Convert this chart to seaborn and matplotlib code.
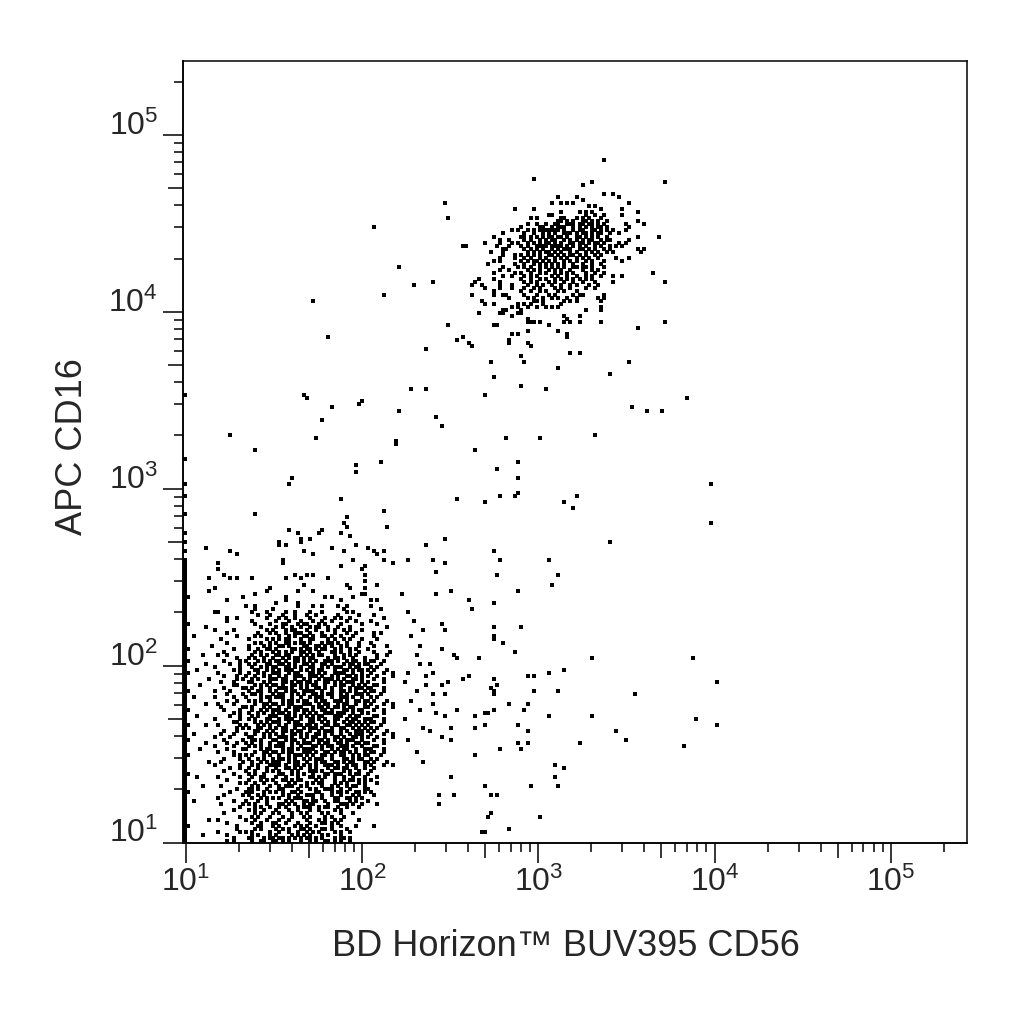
import numpy as np
import pandas as pd
import matplotlib
matplotlib.use("Agg")
import seaborn as sns
from matplotlib import pyplot as plt
from matplotlib.ticker import FixedLocator, FuncFormatter, NullLocator, NullFormatter

# 256-channel log display (decades covered by each axis)
X_DECADES = (0.983, 5.433)
Y_DECADES = (1.0, 5.418)
N_CHANNELS = 256

x_label = "BD Horizon\u2122 BUV395 CD56"
y_label = "APC CD16"
major_ticks = [1e1, 1e2, 1e3, 1e4, 1e5]
mid_ticks = [5e1, 5e2, 5e3, 5e4]
minor_ticks = [m * 10.0 ** k for k in range(0, 6) for m in (2, 3, 4, 6, 7, 8, 9)]

# CD16-/CD56 dim events, "ychannel|blocks of 10 x channels", '#' = event, starts at x channel 0
low_blob = [
    "112|.......... .......... .......... .......... .......... .#........ .......... ..........",
    "108|.......... .......... .......... .......... .......... .......... .....#.... ..........",
    "107|#......... .......... ...#...... .......... .......... .......... .......... ..........",
    "106|.......... .......... .......... .......... .......... ...#...... .......... ..........",
    "104|.......... .......... .......... .......... .......... ..#....... .......... ..........",
    "103|.......... .......... .......... .......... .......... ...#...... ......#... ..........",
    "102|.......... .......... .......... ....#..... .....#.... .......... .......... ..........",
    "101|#......... .......... .......... .......#.. ....#..... .#........ .......... ..........",
    "100|.......... .......... .......... .......... .......... ....#..... .......... ..........",
    "99|.......... .......... .......... ........#. .#........ .......... .......... ..........",
    "98|#......... .......... .......... .#......#. .......... .......... .......... ..........",
    "97|.......... .......... .......... .#.#...... .......... ......#... .......... ..........",
    "96|.......#.. .......... .......... .......... ........#. .......... #......... ..........",
    "95|#......... .....#.... .......... .........# .......... ..#....... ..#..#.... ..........",
    "94|.......... .......#.. .......... .......... ..#....... .......... ...#...... ..........",
    "92|#......... .......... .......... ..#....... .......... .....#.... .....#.... ...#......",
    "91|#......... .#........ .......... ..#....... .......... .......... ........#. ..........",
    "90|#......... .......... .......... .......... .......... .#.......# .......... ..........",
    "89|#......... .#........ .......... .......... .......... ........#. .......... ..........",
    "88|#......... .......... .......... .......... .......... .......... .......... ..........",
    "87|#......... ...#...... .......... ......#... #.#....... .........# .......... ..........",
    "86|#.......#. .....#.#.. ..#....... ...#....#. .......#.. .......... .......... ..........",
    "85|#......... .......... .......... .......... .......... .........# .......... ..........",
    "84|#......... .......... .......... .........# .......... ...#...... ...#...... ..........",
    "83|#......... #......... ........#. .......... .......... ....#....# .......... ..........",
    "82|#.......#. .......... .......#.. .......#.. ..#....... .......... .......... ..........",
    "81|#......... .......... ...#...... .......... .......... ........## .......... .#........",
    "80|##........ .........# .......... ...#...... ......#.#. .....#.... .......... ..........",
    "79|#......... ....#..... .......... ...#...... .......... .#........ .#.#...... ..........",
    "78|#......... .......... .......... #......#.. .......... .......... .......... ..........",
    "77|#......... .......... #..#...... .......#.. ..#..#.... #..#...... .#........ ..........",
    "76|#......... .......... ...#.....# .......... .......... ..#....... ....#..... ..........",
    "75|#......... ##........ ..#....#.. ...#..#... .#...#.... ...#.#.... .......... ...#......",
    "74|#......... .......... ....#...#. ..#...#... #..#...... #......#.. ..#....... ..........",
    "73|#......... ....#..#.. .......#.. .#.#..#... .#....#..# .#..#..... .....#.... ..........",
    "72|#......... ....#..... ..#....... #...#...#. ..#..#..#. ...#..#... .#........ .....#....",
    "71|##........ .......... ...#....#. ..##...#.# #...#.#... .#......#. ...#...... ..........",
    "70|#......#.. .......... .....#.... #.#..#..#. .#.##..#.. #...#..... ......#... ..........",
    "69|#......... #.....#... .......#.# ...#.##... #..#...#.# ..#.#...#. .......... ........#.",
    "68|#......... ....#..... ....#...#. #..#..###. .#...#...# ...#..#... ..#.#..... ..........",
    "67|#..#...... .......#.. ...#.#.... .#..#.#..# #.#..##.#. .#...#.... ..#....... ....#.....",
    "66|#......... ..#....... .#.....#.# .#.##...#. .##....#.# ..#.#...#. ...#...... ..........",
    "65|#......... ....#..... ...#.#..#. #..##.#.## .#...#.##. #..#...#.. .#........ ..........",
    "64|#........# .......... .#....#.#. .##.#....# #..##.#.#. .#.#...#.. ..#...#... .......#..",
    "63|##........ ......#... .#..#..##. #....##.#. ##.#.##..# .#..#.#... #......... ..........",
    "62|#......... ...#...... ...#.#...# .#.#.#..## .#..#...## .#..#..#.. ..#....#.. ..........",
    "61|#.....#... .#..#..... ..#..#.#.. ##.##...#. #.#.##...# ..#.#.#... ...#..#... ......#...",
    "60|#......... .......#.. .#.#..#..# ..#.#.##.# .##....#.# #.#..#...# ...#...... ..........",
    "59|##........ ...#....#. #...#.#.#. ##.#..##.# .#.#..###. #..#.##..# .##..#.... ..........",
    "58|#......#.. .....#..#. .#.#...##. .##.#.#..# #.#..##.#. ..#.##.#.# #...#..... .......#..",
    "57|#......... #.......#. ..#..#.#.# #..##.#.#. .##..#.#.# ##..#.##.. .#.#...... ..........",
    "56|#...#..... ......#.#. ...##..#.# .#.###..#. #.#.##...# ..##.#.##. #.#...#... ..........",
    "55|##........ .#......#. .#..#.#..# ##..#.##.. .##.#.#..# ###..#..#. .#...#..#. ...#......",
    "54|#......... ...#...#.. #..#..#.#. .#.#..###. .###.#..#. #..##.#.#. #..#....#. ..........",
    "53|#.......#. .......#.# ..#.#...## #.##..#..# .#..#.###. #.#..##.#. ..#..#.... ..........",
    "52|#......... ..#...#... .##...#.#. ..##.#.##. ##.#..##.# .#.###..#. #....#.... ..#.......",
    "51|#....#.... ......##.. ...#.#.#.# #.#..##.#. #.##..#..# .##..#.#.# ..##...... ..........",
    "50|#......... ...#.....# #.#..#..#. .###.#..#. #..##.#.#. .#..#.###. ##...#.... ..........",
    "49|##........ #....#.... .#..##..#. #..#.##..# ###..#..#. .##.#.#..# .##..#.... ......#...",
    "48|#......... ....#....# ..##.#...# .##..#.#.# ..##.#.##. .#.#..###. #...#..... ..........",
    "47|#..#...... #.....#... #....#.##. ###..#..#. .#.###..#. .###.#..#. .#.#...... ..........",
    "46|#......... ....#..#.. .#.#.#..#. ..#.##.#.# #..#.##..# ##.#..##.# #.#...#... ....#.....",
    "45|#......#.. .#....#... ...#..##.# #.#.##...# ##..#.##.. #.##..#..# .#...#..#. ..........",
    "44|#......... ..#......# #.#...#.#. .#..#.###. ..#.##.#.# #.#.##...# #..#....#. ..........",
    "43|##........ ...#....#. ..#..#.#.# ##.#..##.# #.#..##.#. ..##.#.##. ..#..#.... .......#..",
    "42|#......... ......#.#. .#..#.#..# .##.#.#..# .#.#..###. ###..#..#. #....#.... ..........",
    "41|#...#..... .....#..#. ..#.#...## #..##.#.#. #.#.##...# ##..#.##.. ..##...... ..........",
    "40|#......... #.......#. .#.#...##. .#.###..#. .##.#.#..# #..#.##..# ##...#.... ..#.......",
    "39|#......... ......##.. ...#.#.#.# ##..#.##.. .##..#.#.# ..#.##.#.# .##..#.... ..........",
    "38|##.....#.. .#......#. #...#.#.#. .#.#..###. ##.#..##.# #..##.#.#. #...#..... ..........",
    "37|#......... .......#.# .#..##..#. #.##..#..# .###.#..#. .##..#.#.# .#.#...... ........#.",
    "36|#......... ...#...#.. ...##..#.# ..##.#.##. .#..#.###. .#.#..###. #.#...#... ..........",
    "35|#..#...... ..#...#... #..#..#.#. #.#..##.#. #..##.#.#. .#..#.###. .#...#..#. ..........",
    "34|#......... #....#.... .##...#.#. .###.#..#. #.##..#..# #.#..##.#. #..#....#. ..........",
    "33|##........ ...#.....# ..##.#...# #..#.##..# ..#.##.#.# .#.###..#. ..#..#.... ...#......",
    "32|#......#.. ....#..#.. #.#..#..#. .##..#.#.# ##..#.##.. ##.#..##.# #....#.... ..........",
    "31|#......... #.....#... .#.#.#..#. ###..#..#. ..##.#.##. .###.#..#. ..##...... ..........",
    "30|#....#.... ....#....# #....#.##. ..#.##.#.# ###..#..#. #.##..#..# ##...#.... ..........",
    "29|#......... .#....#... ...#..##.# #.#.##...# ##.#..##.# .##.#.#..# .##..#.... ......#...",
    "28|##........ ......#.#. #.#...#.#. .#..#.###. #.#..##.#. .##..#.#.# #...#..... ..........",
    "27|#......... ...#....#. .#..#.#..# .##.#.#..# .#.###..#. ..##.#.##. .#.#...... ..........",
    "26|#.......#. ..#......# ..#..#.#.# ##..#.##.. #..#.##..# #.#.##...# #.#...#... ..........",
    "25|#......... #.......#. ..#.#...## ##.#..##.# .#.#..###. #..#.##..# .#...#..#. ..........",
    "24|#......... .....#..#. .#..#..#.. #..##.#.#. .#.#...#.# #.##..#..# ..#....... ..........",
    "23|#......... ...#...... #..#...#.# .#...#.#.. .###.#..#. ..#.#..#.. .#........ ..........",
    "22|##........ ......#... .#.#..#... .##..#.#.# ..#...##.# ##..#.##.. #......... ..........",
    "21|#...#..... .#......#. ..#..##... #..#...#.. .##.#.#..# ..#..#...# ...#...... ..........",
    "20|#......... ....#..... .#...#.#.# ..##.#.##. ...#.#...# ..#.##.#.# .#........ ..........",
    "19|#......... ........#. #..#..#... #...#.#... #.#.##...# .#.#...#.# ...#...... ..........",
    "18|#.....#... ..#....... ..#.#...#. .#.###..#. #....#..#. #..#.##..# .......... ..........",
    "17|#......... .......#.. .##.#..#.. .##....#.. .#.#..###. .#..#....# #......... ..........",
    "16|##........ .....#.... ###...#.#. #.#..##.#. ...##...#. ##.#..##.# .#........ ..........",
    "15|#......... ...#.....# .#..#.#... ..#.#..#.. ###..#..#. .#...#.#.. ..#....... ..........",
    "14|#......... .#........ ..#..#.#.# .#..#.###. ..#..#...# #..##.#.#. .......... ..........",
    "13|#..#...... ......#... #...#..#.. ...#.#...# #.##..#..# #...#.#... #......... ..........",
    "12|#......... ..#......# .#.#...#.. .##.#.#..# .##....#.. .###.#..#. ...#...... ..........",
    "11|#......... ........#. ...#.#..#. .#.#...#.# ##..#.##.. #..#...#.. .......... ..........",
    "10|#......... ......#... .#.#..#... #...#..#.. .#..#....# .#........ .......... ..........",
    "9|#......... ...#...... ...#.#...# .#...#..#. #....#.#.. .#...#.... .......... ..........",
    "8|#......... ........#. ..#.#...#. ..#..#...# .#....#.#. ..#....... .......... ..........",
    "7|#.......#. .#........ #..#...#.. .#..#..... #...#.#..# .#.....#.. .......... ..........",
    "6|#......... ....#..... ..#..#...# #..#...#.. .#...##.#. #......... .......... ..........",
    "5|##........ .......#.. ....##...# .#....#.#. #..#....#. .#....#... ..#....... ..........",
    "4|#......... .......#.. ...#.#.... #.#.#...## .#...##.#. ...#...... .......... ..........",
    "3|#......... .#......#. #.#.....#. .#..#..#.. #.#.#....# .#..#..... .......... ..........",
    "2|#.....#... ....#..... ..#.#...#. #....#.#.# .#...#.#.. .#........ .......... ..........",
    "1|#......... ......#... .##...#.## .##.#.#.#. ##.#.#...# .##.#..... .......... ..........",
    "0|#......... ....#.#... ..#..##..# #.#.#...#. .#.#..##.# .#..#..... .......... ..........",
]

# CD16+ CD56 dim NK events, same layout, starts at x channel 90
nk_blob = [
    "217|.......... .......... ....#..... .......... .......... .......... ..........",
    "216|.......... .......... .......... .......... ...#...... .......... ..........",
    "215|.......... .......... .......... .......... #......... .......... ..........",
    "212|.......... .......... .......... .......... .......#.. #......... ..........",
    "211|.......... .......... .......... ..#.....#. .......... ..#....... ..........",
    "210|.......... .......... .......... .......... #......... .......... ..........",
    "209|.......... .......... .......... #..#.#.#.. .......... .....#.... ..........",
    "208|.......... .......... .......... .......... ..#.#..... .......... ..........",
    "207|.......... ........#. ....#..... .......... ......#... ...#...... ..........",
    "206|.......... .......... .......... ...#.....# .#.#...... ........#. ..........",
    "205|.......... .......... .........# #......... .#..#..#.. ...#...... ..........",
    "204|.......... .......... ...#.#.... ...##...#. #.#...#... .......... ..........",
    "203|.......... .......... .......... ..##.#.#.. ##.#.#..#. ........#. ..........",
    "202|.......... .......... ..#..#..#. .##..###.# #.##.#.#.. ....#..... #.........",
    "201|.......... .......... #.....##.. #.###..#.# .#.#.##.#. .....#.... ..........",
    "200|.......... .......#.# ..#.#.#### ###.#..#.# #..##.#.#. #...#..... ..........",
    "199|.......... ....#..... .#..#..#.# .#..###.#. ##.#.##..# ..#....... ..........",
    "198|.......... .#........ ##.#.#.#.# #.##.#..## .#.#.#..#. ........#. .....#....",
    "197|.......... ...#..#... .#.#..#.#. ##..#.#.#. #.##..#.## .....#.... ..........",
    "196|........#. ...#...#.# ..#.#.#.## .#.#..##.# #.#.##.#.. ..#.#..... ..........",
    "195|.##....... ..#...#... #.#..####. ####.#.#.# .#..#.#..# .#.#...... ..........",
    "194|.......... ....##.... .#.#.#.#.. #.#.###..# #.#.#..#.# ........#. #.........",
    "193|.......... #...#..... ..#.#.#.## .#.#..#.#. .#.#.#..#. #........# ..........",
    "192|.......... ....#...#. #.#.#.#..# #.#.#.##.# .#..#.#... .......... ..........",
    "191|.......... ...#....#. .#.#..#.#. .#.#.#..#. #.#..#.... .#...#.... ..........",
    "190|.......... .#.#...... #.#.##.#.# .#..#.#.#. .#.#...#.. ...#...... ..........",
    "189|.........# ........#. .#..#.#.#. #.#.#..#.. #..#..#... .......... ..........",
    "188|.......... ....#....# .#.#..#.#. #.#.#..##. ##.#...#.. .......... ..........",
    "187|.......... ...#..#... ..#.#.#..# .#.#..#... #..#.#.... .......... ..........",
    "186|.......... .#......#. #..#..#.#. .#.#.#.#.. .#..#..#.. .......... ..........",
    "185|.......... ....#..#.. .#.#.#.... #.#..#..#. .#.#..#... #..#...... ..........",
    "184|......#... .#........ #..#..#.#. .#.#.#.#.# .#.#...... .......... ..........",
    "183|.....#.... ...#...... .#.#.#...# .#..#..#.. #...#..... #......... .......#..",
    "182|....#..#.. ...#...#.. ..#..#.#.. #..#..#.#. ..#..#.... .......... ..........",
    "181|........#. ...#...#.. .#..#.#... .#.#..#... .#..#..... .......... ..........",
    "180|.......... .#........ #..#..#.#. ..#.#...#. .......... .......... ..........",
    "179|....#..... .#..##.... .#...#...# .#.....#.# #......#.. .......... ..........",
    "178|.......... ......#... ..#.#..#.. #.#..#..#. .....#.#.. .......... ..........",
    "177|.......#.. .......... ....##.#.. ....#.#.#. ......#... .......... ..........",
    "176|........#. .#.......# .#.#...#.. ...#...... .......... .......... ..........",
    "175|.......... .......#.# ..#..#..#. #.#....... ......#... .......... ..........",
    "174|.......... ....##.... #......... .......... .#....#... .......... ..........",
    "173|......#... ...##....# #......... .......... .......... .......... ..........",
    "172|.......... .......#.. .......... ....#....# .......... .......... ..........",
    "171|.......... .......... ..#....... .....#.... .......... .......... ..........",
    "170|.......... .......... ..###.#... ....#.#..# ......#... .......... .......#..",
    "169|.......... .##....... .........# .......... .......... .......... ..........",
    "168|.......... .......... .......... .......... .......... ........#. ..........",
    "167|.......... .......... ..#....... ..#....... .......... .......... ..........",
    "166|.......... .......#.# .......... .....#.... .......... .......... ..........",
    "165|.#........ .......... .......... .....#.... .......... .......... ..........",
    "164|.......... ......#... .......... .......... .......... .......... ..........",
    "163|...#...... ......#... ..#....... .......... .......... .......... ..........",
    "162|....#..... .......... ...#...... .......... .......... .......... ..........",
    "160|.......... .......... .......... ......#..# .......... .......... ..........",
    "159|.......... .......... #......... .......... .......... .......... ..........",
    "157|.......... #......... .#........ .......... .......... .......... ..........",
    "155|.......... .......... .......... ..#....... .......... .......... ..........",
    "152|.......... .#........ .......... .......... .......... .......... ..........",
]

# scattered single events as (x channel, y channel)
sparse_events = [
    (89, 112), (98, 111), (103, 113), (108, 113), (124, 111), (128, 113), (127, 109), (172, 104),
    (85, 99), (79, 97), (139, 98), (101, 95), (81, 92), (85, 91), (103, 92), (119, 92),
    (82, 88), (102, 87), (122, 87), (120, 84), (82, 81), (87, 82), (109, 82), (93, 79),
    (94, 76), (101, 78), (84, 71), (85, 69), (101, 70), (110, 70), (101, 67), (101, 66),
    (104, 65), (108, 62), (84, 63), (88, 61), (89, 60), (96, 60), (133, 60), (166, 60),
    (80, 58), (81, 55), (79, 54), (93, 54), (91, 53), (86, 52), (101, 53), (112, 54),
    (114, 54), (119, 55), (124, 56), (174, 52), (79, 51), (84, 51), (100, 50), (102, 51),
    (101, 49), (101, 48), (114, 49), (122, 49), (147, 48), (81, 48), (85, 48), (81, 45),
    (106, 45), (112, 45), (89, 43), (101, 43), (111, 43), (82, 42), (85, 41), (95, 41),
    (98, 42), (99, 42), (119, 41), (133, 41), (167, 40), (174, 38), (87, 37), (95, 37),
    (98, 38), (109, 38), (112, 36), (80, 36), (141, 36), (84, 34), (87, 33), (144, 33),
    (109, 32), (112, 32), (129, 32), (163, 31), (103, 30), (110, 30), (95, 28), (78, 26),
    (121, 25), (124, 24), (87, 21), (121, 21), (113, 18), (98, 18), (122, 18), (83, 15),
    (88, 15), (100, 15), (102, 15), (83, 12), (100, 9), (99, 8), (116, 8), (97, 3),
    (98, 3), (106, 4),
    (62, 201), (42, 177), (47, 165), (39, 146), (40, 145), (48, 142), (57, 143), (58, 144),
    (45, 138), (43, 132), (15, 133), (23, 128), (70, 141), (74, 148), (79, 148), (69, 131),
    (69, 130), (56, 123), (56, 121), (64, 124), (34, 117), (35, 119),
    (0, 146), (0, 125), (0, 117), (0, 113),
    (137, 223), (157, 216), (85, 209), (86, 204), (70, 188), (81, 183), (75, 182), (65, 179),
    (153, 186), (86, 169), (89, 164), (93, 163), (79, 161), (145, 157), (139, 153), (98, 146),
    (110, 149), (118, 148), (164, 145), (146, 142), (151, 141), (156, 141), (82, 139), (84, 136),
    (105, 132), (116, 132), (134, 133), (95, 128), (102, 122), (109, 124), (109, 119), (109, 114),
    (172, 117),
]


def read_blob(rows, first_col):
    cx, cy = [], []
    for row in rows:
        ych, cells = row.split("|")
        for b, block in enumerate(cells.split()):
            for j, ch in enumerate(block):
                if ch == "#":
                    cx.append(first_col + 10 * b + j)
                    cy.append(int(ych))
    return cx, cy


def channel_to_value(ch, decades):
    lo, hi = decades
    return 10 ** (lo + (np.asarray(ch) + 0.5) * (hi - lo) / N_CHANNELS)


lx, ly = read_blob(low_blob, 0)
nx, ny = read_blob(nk_blob, 90)
sx = [p[0] for p in sparse_events]
sy = [p[1] for p in sparse_events]

events = pd.DataFrame({
    "CD56": channel_to_value(lx + nx + sx, X_DECADES),
    "CD16": channel_to_value(ly + ny + sy, Y_DECADES),
})

sns.set_style("ticks")
plt.rcParams["font.family"] = ["Liberation Sans", "DejaVu Sans"]
plt.rcParams["mathtext.default"] = "regular"
plt.rcParams["axes.edgecolor"] = "black"
plt.rcParams["axes.linewidth"] = 1.1

fig = plt.figure(figsize=(10.24, 10.24), dpi=100)
ax = fig.add_axes([183 / 1024, 1 - 842.5 / 1024, 784 / 1024, 781.5 / 1024])

sns.scatterplot(data=events, x="CD56", y="CD16", ax=ax, marker="s", s=5.5,
                color="black", linewidth=0, legend=False)

ax.set_xscale("log")
ax.set_yscale("log")
ax.set_xlim(10 ** X_DECADES[0], 10 ** X_DECADES[1])
ax.set_ylim(10 ** Y_DECADES[0], 10 ** Y_DECADES[1])

fmt = FuncFormatter(lambda v, p: r"$\mathregular{10^{%d}}$" % round(np.log10(v)))
for axis in (ax.xaxis, ax.yaxis):
    axis.set_major_locator(FixedLocator(major_ticks))
    axis.set_minor_locator(FixedLocator(minor_ticks))
    axis.set_major_formatter(fmt)
    axis.set_minor_formatter(NullFormatter())

ax.tick_params(which="major", length=14.4, width=1.1, color="black", labelsize=23)
ax.tick_params(which="minor", length=6.5, width=1.1, color="black")
ax.tick_params(axis="x", which="major", pad=3)
ax.tick_params(axis="y", which="major", pad=3.5)
for lab in ax.get_yticklabels():
    lab.set_verticalalignment("baseline")

# slightly longer ticks at 5 x 10^k
secx = ax.secondary_xaxis("bottom")
secx.set_xticks(mid_ticks)
secx.xaxis.set_major_formatter(NullFormatter())
secx.xaxis.set_minor_locator(NullLocator())
secx.tick_params(which="major", length=10.5, width=1.1, color="black")
secy = ax.secondary_yaxis("left")
secy.set_yticks(mid_ticks)
secy.yaxis.set_major_formatter(NullFormatter())
secy.yaxis.set_minor_locator(NullLocator())
secy.tick_params(which="major", length=10.5, width=1.1, color="black")

ax.set_xlabel(x_label, fontsize=26)
ax.set_ylabel(y_label, fontsize=26)
ax.xaxis.set_label_coords(0.488, -0.111)
ax.yaxis.set_label_coords(-0.119, 0.506)

fig.savefig("out.png", dpi=100)
